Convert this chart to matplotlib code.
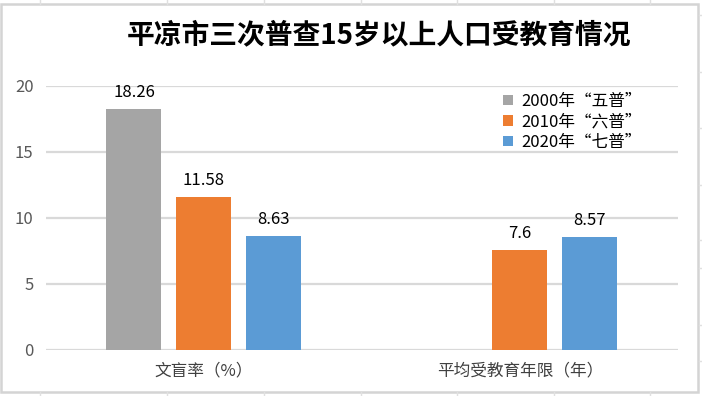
import matplotlib.pyplot as plt
import numpy as np
from matplotlib.patches import Rectangle
from matplotlib.lines import Line2D

plt.rcParams['font.family'] = ['Noto Sans CJK SC', 'DejaVu Sans']

categories = ['文盲率（%）', '平均受教育年限（年）']
series_names = ['2000年“五普”', '2010年“六普”', '2020年“七普”']
census_2000 = [18.26, np.nan]
census_2010 = [11.58, 7.6]
census_2020 = [8.63, 8.57]
y_ticks = [0, 5, 10, 15, 20]

colors = ['#a5a5a5', '#ed7d31', '#5b9bd5']

fig = plt.figure(figsize=(7.02, 3.96), dpi=100)
ax = fig.add_axes([0.0655, 0.1162, 0.9003, 0.6667])

x = np.arange(len(categories))
width = 0.174
step = 0.2215
values = [census_2000, census_2010, census_2020]
for i, (vals, name, c) in enumerate(zip(values, series_names, colors)):
    bars = ax.bar(x + (i - 1) * step, vals, width, color=c, label=name, zorder=3)
    for b, v in zip(bars, vals):
        if np.isnan(v):
            continue
        ax.annotate(f'{v:g}', (b.get_x() + b.get_width() / 2, v),
                    xytext=(0, 8), textcoords='offset pixels',
                    ha='center', va='bottom', fontsize=12, color='black')

ax.set_xlim(-0.5, 1.5)
ax.set_ylim(0, 20)
ax.set_yticks(y_ticks)
ax.set_xticks(x)
ax.set_xticklabels(categories, fontsize=12, color='#404040')
ax.tick_params(axis='y', labelsize=12, labelcolor='#595959', length=0, pad=9)
ax.tick_params(axis='x', length=0, pad=9)
ax.grid(axis='y', color='#d9d9d9', linewidth=1.6, zorder=0)
for s in ax.spines.values():
    s.set_visible(False)

leg = ax.legend(loc='upper left', bbox_to_anchor=(0.7, 1.03), frameon=False,
                fontsize=12, handlelength=0.6, handleheight=0.6,
                handletextpad=0.5, labelspacing=0.2)

fig.text(0.54, 0.91, '平凉市三次普查15岁以上人口受教育情况', ha='center', va='center',
         fontsize=20, fontweight='bold', color='black')

# chart frame and the sheet lines around it
fig.patches.append(Rectangle((1 / 702, 4 / 396), 697 / 702, 388 / 396,
                             transform=fig.transFigure, fill=False,
                             edgecolor='#d4d4d4', linewidth=1.8))
for xp in [40, 167, 264, 361, 457, 554, 650]:
    fig.lines.append(Line2D([xp / 702, xp / 702], [1 - 4 / 396, 1.0],
                            transform=fig.transFigure, color='#e0e0e0', lw=1))
    fig.lines.append(Line2D([xp / 702, xp / 702], [0, 4 / 396],
                            transform=fig.transFigure, color='#e0e0e0', lw=1))
for yp in [15, 72, 128, 185, 240, 268, 325, 361]:
    fig.lines.append(Line2D([699 / 702, 1.0], [1 - yp / 396, 1 - yp / 396],
                            transform=fig.transFigure, color='#e0e0e0', lw=1))

fig.savefig('out.png', dpi=100)
